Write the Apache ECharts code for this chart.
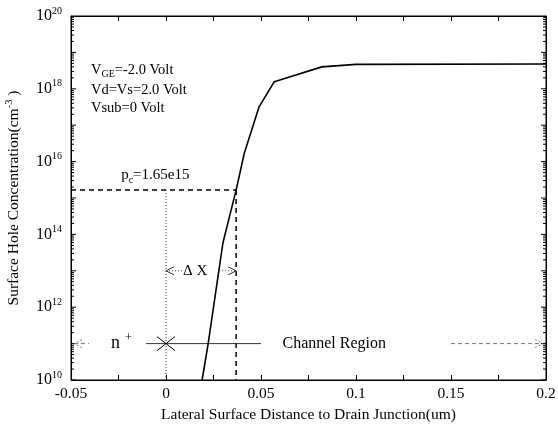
<!DOCTYPE html>
<html><head><meta charset="utf-8">
<script src="https://cdn.jsdelivr.net/npm/echarts@6/dist/echarts.min.js"></script>
<style>html,body{margin:0;padding:0;background:#fff}#c{width:558px;height:427px}</style>
</head><body><div id="c"></div>
<script>
// ---- data ----
const curveX = [0.019, 0.0222, 0.030, 0.0369, 0.0412, 0.049, 0.057, 0.082, 0.10, 0.2];
const curveY = [1e10, 1e11, 6e13, 1.65e15, 1.7e16, 3.2e17, 1.57e18, 4.0e18, 4.7e18, 4.8e18];
const xTickValues = [-0.05, 0, 0.05, 0.1, 0.15, 0.2];
const yTickExponents = [10, 12, 14, 16, 18, 20];
const pcValue = 1.65e15;       // p_c
const pcX = 0.0369;            // x where curve reaches p_c
const junctionX = 0;           // drain junction
const regionLevel = 1e11;      // level of the n+/channel markers
const deltaLevel = 1e13;       // level of the ΔX arrow
const regionLineX = [-0.0104, 0.050];

const FONT = '"Liberation Serif", "DejaVu Serif", serif';
const xMin = xTickValues[0], xMax = xTickValues[xTickValues.length - 1];
const yMin = Math.pow(10, yTickExponents[0]), yMax = Math.pow(10, yTickExponents[yTickExponents.length - 1]);

const chart = echarts.init(document.getElementById('c'), null, {renderer: 'canvas'});

function annoRender(params, api) {
  const c = (x, y) => api.coord([x, y]);
  const kids = [];
  const seg = (p1, p2, st) => kids.push({type: 'line', shape: {x1: p1[0], y1: p1[1], x2: p2[0], y2: p2[1]},
    style: Object.assign({stroke: '#000', lineWidth: 1}, st)});
  const txt = (p, text, st) => kids.push({type: 'text', x: p[0], y: p[1],
    style: Object.assign({text: text, fill: '#000', fontSize: 14.5, fontFamily: FONT, align: 'left', verticalAlign: 'middle', lineHeight: 20,
      rich: {sub: {fontSize: 10, fontFamily: FONT, lineHeight: 10, verticalAlign: 'bottom'},
             sup: {fontSize: 10, fontFamily: FONT, lineHeight: 10, verticalAlign: 'top'}}}, st)});
  const head = (p, dir, st) => kids.push({type: 'polyline',
    shape: {points: [[p[0] - dir * 8, p[1] - 4], [p[0], p[1]], [p[0] - dir * 8, p[1] + 4]]},
    style: Object.assign({stroke: '#000', lineWidth: 1, fill: null}, st)});

  // condition texts
  txt(c(-0.0395, Math.pow(10, 18.52)), 'V{sub|GE}=-2.0 Volt');
  txt(c(-0.0395, Math.pow(10, 17.97)), 'Vd=Vs=2.0 Volt');
  txt(c(-0.0395, Math.pow(10, 17.46)), 'Vsub=0 Volt');
  // p_c label
  txt(c(-0.0236, Math.pow(10, 15.63)), 'p{sub|c}=1.65e15', {fontSize: 15});

  // delta X arrow
  const a = c(junctionX, deltaLevel), b = c(pcX, deltaLevel);
  const dotted = {stroke: '#333', lineWidth: 1, lineDash: [1, 2]};
  seg(a, [a[0] + 16, a[1]], dotted);
  seg([b[0] - 17, b[1]], b, dotted);
  head(a, -1, {stroke: '#333'});
  head(b, 1, {stroke: '#333'});
  txt([a[0] + 17, a[1]], '\u0394 X', {fontSize: 15});

  // n+ region
  const r0 = c(junctionX, regionLevel);
  txt([r0[0] - 55, r0[1]], 'n{sup|+}', {fontSize: 18, rich: {sup: {fontSize: 12, fontFamily: FONT, lineHeight: 12, verticalAlign: 'top', padding: [0, 0, 0, 5]}}, lineHeight: 24});
  // X marker
  seg([r0[0] - 9, r0[1] - 7], [r0[0] + 9, r0[1] + 7], {lineWidth: 1});
  seg([r0[0] - 9, r0[1] + 7], [r0[0] + 9, r0[1] - 7], {lineWidth: 1});
  // left dashed arrow
  const la = c(xMin, regionLevel);
  const gdash = {stroke: '#777', lineWidth: 1, lineDash: [4, 3]};
  seg([la[0] + 3, la[1]], [la[0] + 18, la[1]], gdash);
  head([la[0] + 3, la[1]], -1, {stroke: '#777', lineDash: [2, 2]});
  // channel region text
  txt(c(0.0613, regionLevel), 'Channel Region', {fontSize: 16});
  // right dashed arrow
  const ra = c(0.150, regionLevel), rb = c(xMax, regionLevel);
  seg(ra, [rb[0] - 3, rb[1]], gdash);
  head([rb[0] - 3, rb[1]], 1, {stroke: '#777', lineDash: [2, 2]});

  return {type: 'group', children: kids};
}

function minorTickRender(params, api) {
  const kids = [];
  for (let e = yTickExponents[0]; e < yTickExponents[yTickExponents.length - 1]; e++) {
    for (let k = 1; k <= 9; k++) {
      const v = k * Math.pow(10, e);
      const len = k === 1 ? 5 : 3;
      const pl = api.coord([xMin, v]), pr = api.coord([xMax, v]);
      kids.push({type: 'line', shape: {x1: pl[0], y1: pl[1], x2: pl[0] + len, y2: pl[1]}, style: {stroke: '#000', lineWidth: 1}});
      kids.push({type: 'line', shape: {x1: pr[0], y1: pr[1], x2: pr[0] - len, y2: pr[1]}, style: {stroke: '#000', lineWidth: 1}});
    }
  }
  return {type: 'group', children: kids};
}

const labelFmt = v => {
  const e = Math.round(Math.log10(v));
  return (yTickExponents.indexOf(e) >= 0) ? '10{sup|' + e + '}' : '';
};

const axisTxt = {color: '#000', fontFamily: FONT, fontSize: 15.5};

const option = {
  animation: false,
  backgroundColor: '#fff',
  grid: {left: 71, right: 12, top: 16, bottom: 47, show: true, borderColor: '#000', borderWidth: 1,
    containLabel: false, outerBoundsMode: 'none'},
  xAxis: [{
    type: 'value', min: xMin, max: xMax, interval: 0.05, position: 'bottom',
    name: 'Lateral Surface Distance to Drain Junction(um)', nameLocation: 'middle', nameGap: 26,
    nameTextStyle: {color: '#000', fontFamily: FONT, fontSize: 15.5},
    axisLine: {show: true, onZero: false, lineStyle: {color: '#000', width: 1}},
    axisTick: {show: true, inside: true, length: 5, lineStyle: {color: '#000'}},
    minorTick: {show: true, splitNumber: 2, length: 5, lineStyle: {color: '#000'}},
    axisLabel: Object.assign({margin: 6}, axisTxt),
    splitLine: {show: false}
  }, {
    type: 'value', min: xMin, max: xMax, interval: 0.05, position: 'top',
    axisLine: {show: true, onZero: false, lineStyle: {color: '#000', width: 1}},
    axisTick: {show: true, inside: true, length: 5, lineStyle: {color: '#000'}},
    minorTick: {show: true, splitNumber: 2, length: 5, lineStyle: {color: '#000'}},
    axisLabel: {show: false}, splitLine: {show: false}
  }],
  yAxis: [{
    type: 'log', logBase: 10, min: yMin, max: yMax, interval: 2, position: 'left',
    name: 'Surface Hole Concentration(cm{sup|-3} )', nameLocation: 'middle', nameGap: 47, nameRotate: 90,
    nameTextStyle: {color: '#000', fontFamily: FONT, fontSize: 15.5, lineHeight: 20,
      rich: {sup: {fontSize: 10.5, fontFamily: FONT, lineHeight: 11, verticalAlign: 'top', color: '#000'}}},
    axisLine: {show: true, onZero: false, lineStyle: {color: '#000', width: 1}},
    axisTick: {show: false},
    axisLabel: Object.assign({margin: 9, formatter: labelFmt, lineHeight: 20,
      rich: {sup: {fontSize: 10, fontFamily: FONT, lineHeight: 11, verticalAlign: 'top', color: '#000'}}}, axisTxt, {fontSize: 16}),
    splitLine: {show: false}
  }, {
    type: 'log', logBase: 10, min: yMin, max: yMax, interval: 2, position: 'right',
    axisLine: {show: true, onZero: false, lineStyle: {color: '#000', width: 1}},
    axisTick: {show: false},
    axisLabel: {show: false}, splitLine: {show: false}
  }],
  series: [
    {type: 'line', name: 'p', data: curveX.map((x, i) => [x, curveY[i]]), showSymbol: false, symbol: 'none',
      lineStyle: {color: '#000', width: 1.6}, z: 5},
    {type: 'line', data: [[xMin, pcValue], [pcX, pcValue]], symbol: 'none',
      lineStyle: {color: '#000', width: 1.5, type: [5, 4]}},
    {type: 'line', data: [[pcX, pcValue], [pcX, yMin]], symbol: 'none',
      lineStyle: {color: '#000', width: 1.5, type: [5, 4]}},
    {type: 'line', data: [[junctionX, pcValue], [junctionX, yMin]], symbol: 'none',
      lineStyle: {color: '#222', width: 1, type: [1, 2]}},
    {type: 'line', data: regionLineX.map(x => [x, regionLevel]), symbol: 'none',
      lineStyle: {color: '#333', width: 1}},
    {type: 'custom', coordinateSystem: 'cartesian2d', data: [[0, pcValue]], renderItem: minorTickRender, silent: true, z: 3},
    {type: 'custom', coordinateSystem: 'cartesian2d', data: [[0, pcValue]], renderItem: annoRender, silent: true, z: 6}
  ]
};
chart.setOption(option);
</script>
</body></html>
